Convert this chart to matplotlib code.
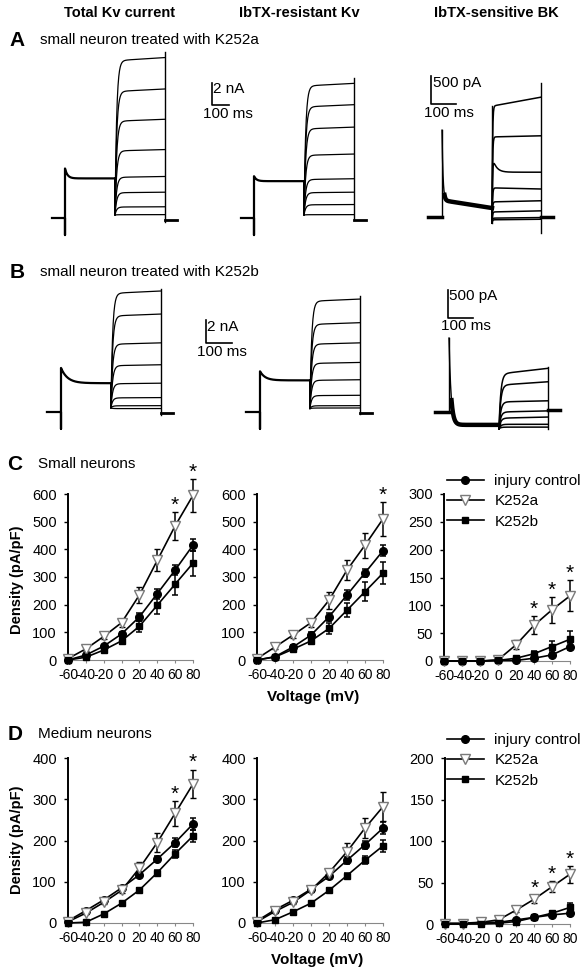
import numpy as np
import matplotlib
matplotlib.use("Agg")
import matplotlib.pyplot as plt
from matplotlib.lines import Line2D

plt.rcParams["font.family"] = ["Liberation Sans", "DejaVu Sans"]
plt.rcParams["axes.unicode_minus"] = False

W, H = 588, 975
fig = plt.figure(figsize=(W / 100, H / 100), dpi=100)

# ---------------- I-V data (pA/pF) ----------------
voltages = [-60, -40, -20, 0, 20, 40, 60, 80]
series_names = ["injury control", "K252a", "K252b"]

C_total_ctrl = [0, 18, 50, 94, 156, 240, 325, 415]
C_total_ctrl_err = [2, 4, 6, 8, 14, 18, 18, 22]
C_total_a = [5, 40, 85, 135, 235, 360, 485, 595]
C_total_a_err = [3, 8, 10, 15, 30, 40, 50, 60]
C_total_b = [0, 10, 36, 69, 122, 198, 274, 350]
C_total_b_err = [2, 5, 8, 10, 20, 30, 40, 45]
C_total_sig = [60, 80]

C_res_ctrl = [0, 12, 47, 90, 156, 235, 315, 395]
C_res_ctrl_err = [2, 4, 6, 10, 14, 18, 15, 20]
C_res_a = [5, 47, 90, 135, 216, 325, 415, 510]
C_res_a_err = [3, 8, 10, 15, 30, 35, 45, 60]
C_res_b = [0, 11, 39, 69, 114, 180, 247, 314]
C_res_b_err = [2, 5, 8, 10, 20, 25, 35, 40]
C_res_sig = [80]

C_bk_ctrl = [0, 0, 0, 1, 1, 5, 11, 26]
C_bk_ctrl_err = [0.5, 0.5, 0.5, 1, 1, 2, 3, 6]
C_bk_a = [0, 0, 0, 2, 29, 64, 92, 117]
C_bk_a_err = [0.5, 0.5, 0.5, 1, 8, 16, 23, 28]
C_bk_b = [0, 0, 0, 1, 5, 13, 26, 39]
C_bk_b_err = [0.5, 0.5, 0.5, 1, 2, 5, 10, 15]
C_bk_sig = [40, 60, 80]

D_total_ctrl = [5, 30, 56, 85, 117, 155, 195, 240]
D_total_ctrl_err = [2, 3, 4, 5, 6, 8, 10, 15]
D_total_a = [3, 24, 50, 79, 133, 195, 266, 337]
D_total_a_err = [2, 3, 5, 6, 15, 23, 30, 35]
D_total_b = [0, 2, 22, 48, 80, 122, 168, 211]
D_total_b_err = [1, 2, 3, 4, 5, 6, 10, 15]
D_total_sig = [60, 80]

D_res_ctrl = [5, 32, 55, 82, 113, 152, 190, 230]
D_res_ctrl_err = [2, 3, 4, 5, 6, 8, 10, 15]
D_res_a = [3, 28, 50, 80, 122, 173, 230, 282]
D_res_a_err = [2, 3, 5, 6, 10, 20, 25, 35]
D_res_b = [0, 8, 27, 48, 79, 115, 152, 187]
D_res_b_err = [1, 2, 3, 4, 5, 6, 10, 15]
D_res_sig = []

D_bk_ctrl = [1, 1, 2, 2, 5, 8, 11, 13]
D_bk_ctrl_err = [0.5, 0.5, 0.5, 1, 1, 1.5, 2, 3]
D_bk_a = [0, 0, 2, 5, 17, 30, 45, 60]
D_bk_a_err = [0.5, 0.5, 1, 1, 3, 5, 7, 10]
D_bk_b = [0, 0, 0, 1, 3, 8, 13, 20]
D_bk_b_err = [0.5, 0.5, 0.5, 0.5, 1, 2, 3, 5]
D_bk_sig = [40, 60, 80]

# ---------------- example traces ----------------
# Kv traces in nA, BK traces in pA; levels during the test pulse
A_total_steps = [14.3, 11.5, 8.8, 6.1, 3.7, 2.3, 1.0, 0.3]
A_total_pre = [4.5, 3.6]            # peak, steady
A_res_steps = [12.0, 10.1, 8.1, 5.7, 3.5, 2.3, 1.2, 0.3]
A_res_pre = [3.8, 3.35]
A_bk_steps_start = [1980, 1430, 800, 520, 270, 90, -20, -50]
A_bk_steps_end = [2140, 1450, 800, 500, 290, 110, -10, -40]
A_bk_transient = [0, 0, 300, 0, 0, 0, 0, 0]
A_bk_pre = [1550, 300, 160]         # spike, start, end

B_total_steps = [10.5, 8.5, 6.0, 4.1, 2.5, 1.25, 0.55, 0.3]
B_total_pre = [3.9, 2.55]
B_res_steps = [9.8, 7.75, 6.0, 4.3, 2.8, 1.45, 0.55, 0.35]
B_res_pre = [3.6, 2.8]
B_bk_steps_start = [680, 480, 180, 0, -110, -220, -270]
B_bk_steps_end = [780, 540, 200, 20, -90, -220, -270]
B_bk_transient = [0, 0, 0, 0, 0, 0, 0]
B_bk_pre = [1320, -230, -230]


def ftext(x, y, s, **kw):
    fig.text(x / W, 1 - y / H, s, **kw)


def px_ax(l, t, r, b):
    return fig.add_axes([l / W, 1 - b / H, (r - l) / W, (b - t) / H])


def trace_ax(x0, y0, sx, sy):
    ax = fig.add_axes([0, 0, 1, 1])
    ax.set_xlim((0 - x0) / sx, (W - x0) / sx)
    ax.set_ylim((y0 - H) / sy, (y0 - 0) / sy)
    ax.axis("off")
    return ax


def kv_panel(ax, steps, pre, pre_tau, art_on, dip, art_top, art_bot, tail_lv,
             t_hold=78, t_pre=300, t_step=300, t_tail=72, act_tau=10):
    tp = np.linspace(0, t_pre, 200)
    Ip = pre[1] + (pre[0] - pre[1]) * np.exp(-tp / pre_tau)
    ax.plot(np.r_[-t_hold, 0, 0, tp], np.r_[0, 0, art_on, Ip], color="k", lw=1.6)
    for L in steps:
        ts = np.linspace(t_pre, t_pre + t_step, 200)
        target = L * (1 + 0.02 * (ts - t_pre) / t_step)
        Is = target + (dip - target) * np.exp(-(ts - t_pre) / act_tau)
        ax.plot(np.r_[t_pre, ts], np.r_[pre[1], Is], color="k", lw=0.9)
    te = t_pre + t_step
    ax.plot([te, te], [art_bot, art_top], color="k", lw=1.0)
    ax.plot([te, te + t_tail], [tail_lv, tail_lv], color="k", lw=2.0)


def bk_panel(ax, s_start, s_end, trans, pre, pre_tau, dip, art_top, art_bot, tail_lv,
             t_hold=56, t_pre=200, t_step=196, t_tail=48, act_tau=2):
    ax.plot([-t_hold, 0], [0, 0], color="k", lw=2.5)
    ax.plot([0, 0], [0, pre[0]], color="k", lw=1.0)
    tp = np.linspace(0, t_pre, 200)
    base = pre[1] + (pre[2] - pre[1]) * tp / t_pre
    Ip = base + (pre[0] - base) * np.exp(-tp / pre_tau)
    ax.plot(tp, Ip, color="k", lw=1.0)
    ax.plot(tp[10:], Ip[10:], color="k", lw=3.2)
    for Ls, Le, tr in zip(s_start, s_end, trans):
        ts = np.linspace(t_pre, t_pre + t_step, 200)
        target = Ls + (Le - Ls) * (ts - t_pre) / t_step
        Is = target + (dip - target) * np.exp(-(ts - t_pre) / act_tau)
        Is = Is + tr * np.exp(-(ts - t_pre) / 15) * (1 - np.exp(-(ts - t_pre) / act_tau))
        ax.plot(np.r_[t_pre, ts], np.r_[dip, Is], color="k", lw=1.1)
    te = t_pre + t_step
    ax.plot([t_pre, t_pre], [dip, max(s_start) * (act_tau < 4) + dip * (act_tau >= 4)],
            color="k", lw=1.0)
    ax.plot([te, te], [art_bot, art_top], color="k", lw=1.0)
    ax.plot([te, te + t_tail], [tail_lv, tail_lv], color="k", lw=2.5)


def scalebar(ax, x0, y0, sx, sy, cx, cy, dx, dy):
    t = (cx - x0) / sx
    i = (y0 - cy) / sy
    ax.plot([t, t, t + dx], [i + dy, i, i], color="k", lw=1.2)


KV_SX, KV_SY = 50 / 300, 11.0
KVB_SX, KVB_SY = 0.26, 11.3
BK_SX, BK_SY = 0.25, 0.056

# ---- panel A traces ----
ax = trace_ax(65, 218, KV_SX, KV_SY)
kv_panel(ax, A_total_steps, A_total_pre, 15, -1.55, 0.27, 15.1, -0.36, -0.18)
scalebar(ax, 65, 218, KV_SX, KV_SY, 212, 105, 100, 2)

ax = trace_ax(254, 218, KV_SX, KV_SY)
kv_panel(ax, A_res_steps, A_res_pre, 15, -1.55, 0.27, 12.7, -0.2, -0.18)

ax = trace_ax(442, 217, BK_SX, BK_SY)
bk_panel(ax, A_bk_steps_start, A_bk_steps_end, A_bk_transient, A_bk_pre, 4,
         -110, 2390, -290, 0)
scalebar(ax, 442, 217, BK_SX, BK_SY, 431, 104, 100, 500)

# ---- panel B traces ----
bkw = dict(t_hold=54, t_pre=192, t_step=194, t_tail=46, act_tau=6.5)
ax = trace_ax(61, 412, KVB_SX, KVB_SY)
kv_panel(ax, B_total_steps, B_total_pre, 25, -1.5, 0.36, 10.9, -0.27, -0.1, **bkw)
scalebar(ax, 61, 412, KVB_SX, KVB_SY, 206, 343, 100, 2)

ax = trace_ax(260, 412, KVB_SX, KVB_SY)
kv_panel(ax, B_res_steps, B_res_pre, 20, -1.5, 0.3, 10.3, -0.2, -0.1, **bkw)

ax = trace_ax(449, 412, BK_SX, BK_SY)
bk_panel(ax, B_bk_steps_start, B_bk_steps_end, B_bk_transient, B_bk_pre, 8,
         -300, 800, -300, 35, act_tau=7)
scalebar(ax, 449, 412, BK_SX, BK_SY, 448, 318, 100, 500)

# ---- texts top ----
hdr = dict(fontsize=10.5, fontweight="bold", ha="center", va="center")
ftext(120, 13, "Total Kv current", **hdr)
ftext(299, 13, "IbTX-resistant Kv", **hdr)
ftext(496, 13, "IbTX-sensitive BK", **hdr)

lett = dict(fontsize=15, fontweight="bold", ha="center", va="center")
sub = dict(fontsize=11, ha="left", va="center")
ftext(17, 40, "A", **lett)
ftext(40, 40, "small neuron treated with K252a", **sub)
ftext(17, 272, "B", **lett)
ftext(40, 272, "small neuron treated with K252b", **sub)
ftext(15, 464, "C", **lett)
ftext(38, 464, "Small neurons", **sub)
ftext(15, 734, "D", **lett)
ftext(38, 734, "Medium neurons", **sub)

sb = dict(fontsize=11, va="center")
ftext(213, 89, "2 nA", ha="left", **sb)
ftext(228, 114, "100 ms", ha="center", **sb)
ftext(433, 83, "500 pA", ha="left", **sb)
ftext(449, 113, "100 ms", ha="center", **sb)
ftext(207, 327, "2 nA", ha="left", **sb)
ftext(222, 352, "100 ms", ha="center", **sb)
ftext(449, 296, "500 pA", ha="left", **sb)
ftext(466, 326, "100 ms", ha="center", **sb)

# ---------------- I-V panels ----------------
styles = [
    dict(marker="o", ms=5.5, mfc="k", mec="k"),
    dict(marker="v", ms=6.5, mfc="white", mec="#7a7a7a", mew=1.0),
    dict(marker="s", ms=5, mfc="k", mec="k"),
]


def iv_panel(box, ymax, ystep, vals, errs, sig):
    ax = px_ax(*box)
    order = [0, 2, 1]
    for k in order:
        ax.errorbar(voltages, vals[k], yerr=errs[k], color="k", lw=1.2,
                    elinewidth=1.1, capsize=2.5, capthick=1.1, clip_on=False,
                    zorder=3 + k, **styles[k])
    for v in sig:
        i = voltages.index(v)
        ax.annotate("*", (v, vals[1][i] + errs[1][i]), xytext=(0, -2),
                    textcoords="offset points", ha="center", va="bottom",
                    fontsize=15, annotation_clip=False)
    ax.set_xlim(-60, 80)
    ax.set_ylim(0, ymax)
    ax.set_xticks(voltages)
    ax.set_yticks(np.arange(0, ymax + 1, ystep))
    for s in ["top", "right"]:
        ax.spines[s].set_visible(False)
    ax.spines["left"].set_linewidth(1.4)
    ax.spines["bottom"].set_linewidth(0.8)
    ax.spines["bottom"].set_color("#888888")
    ax.tick_params(axis="y", direction="out", length=3, width=1, pad=5, labelsize=10.5)
    ax.tick_params(axis="x", direction="out", length=2, width=0.8, color="#888888",
                   pad=4, labelsize=10)
    ax.patch.set_alpha(0)
    return ax


iv_panel((68, 494, 193, 660), 600, 100,
         [C_total_ctrl, C_total_a, C_total_b],
         [C_total_ctrl_err, C_total_a_err, C_total_b_err], C_total_sig)
iv_panel((257, 494, 383, 660), 600, 100,
         [C_res_ctrl, C_res_a, C_res_b],
         [C_res_ctrl_err, C_res_a_err, C_res_b_err], C_res_sig)
axc = iv_panel((444, 494, 570, 661), 300, 50,
               [C_bk_ctrl, C_bk_a, C_bk_b],
               [C_bk_ctrl_err, C_bk_a_err, C_bk_b_err], C_bk_sig)
iv_panel((68, 758, 193, 923), 400, 100,
         [D_total_ctrl, D_total_a, D_total_b],
         [D_total_ctrl_err, D_total_a_err, D_total_b_err], D_total_sig)
iv_panel((257, 758, 383, 923), 400, 100,
         [D_res_ctrl, D_res_a, D_res_b],
         [D_res_ctrl_err, D_res_a_err, D_res_b_err], D_res_sig)
axd = iv_panel((445, 758, 570, 924), 200, 50,
               [D_bk_ctrl, D_bk_a, D_bk_b],
               [D_bk_ctrl_err, D_bk_a_err, D_bk_b_err], D_bk_sig)

handles = [Line2D([], [], color="k", lw=1.2, **styles[k]) for k in range(3)]
for ax, top in [(axc, 474), (axd, 733)]:
    ax.legend(handles, series_names, loc="upper left",
              bbox_to_anchor=(447 / W, 1 - top / H), bbox_transform=fig.transFigure,
              frameon=False, borderpad=0, borderaxespad=0, handlelength=2.4,
              handletextpad=0.7, labelspacing=0.42, fontsize=11)

ylab = dict(fontsize=10.5, fontweight="bold", rotation=90, ha="center", va="center")
ftext(17, 580, "Density (pA/pF)", **ylab)
ftext(17, 840, "Density (pA/pF)", **ylab)
xlab = dict(fontsize=11, fontweight="bold", ha="center", va="center")
ftext(313, 697, "Voltage (mV)", **xlab)
ftext(317, 960, "Voltage (mV)", **xlab)

fig.savefig("out.png", dpi=100)
